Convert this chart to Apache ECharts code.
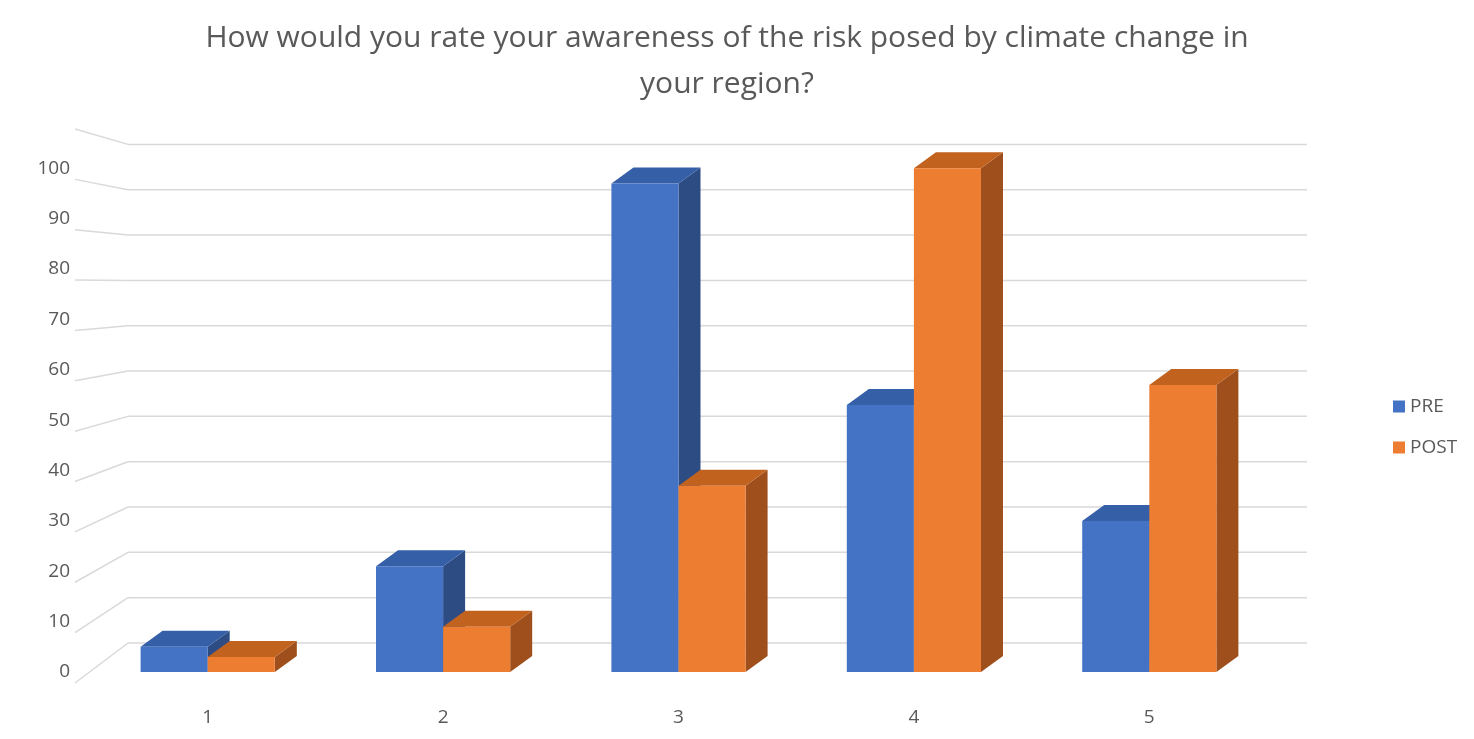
<!DOCTYPE html>
<html>
<head>
<meta charset="utf-8">
<script src="https://cdn.jsdelivr.net/npm/echarts@6/dist/echarts.min.js"></script>
<style>html,body{margin:0;padding:0;background:#fff}#chart{width:1474px;height:739px}</style>
</head>
<body>
<div id="chart"></div>
<script>
var categories = ['1', '2', '3', '4', '5'];
var preValues = [5, 21, 97, 53, 30];
var postValues = [3, 9, 37, 100, 57];
var gridTicks = [0, 10, 20, 30, 40, 50, 60, 70, 80, 90, 100, 110];

var chart = echarts.init(document.getElementById('chart'));
var DX = 22, DY = -16;

function barItem(side, face, top, edge) {
    return function (params, api) {
        var cat = api.value(0), v = api.value(1);
        var p = api.coord([cat, v]);
        var p0 = api.coord([cat, 0]);
        var w = api.size([1, 0])[0] * 0.285;
        var x = side === 0 ? p[0] - w : p[0];
        var y = p[1], yb = p0[1];
        return {
            type: 'group',
            children: [
                { type: 'polygon', shape: { points: [[x + w, y], [x + w + DX, y + DY], [x + w + DX, yb + DY], [x + w, yb]] }, style: { fill: edge } },
                { type: 'polygon', shape: { points: [[x, y], [x + DX, y + DY], [x + w + DX, y + DY], [x + w, y]] }, style: { fill: top } },
                { type: 'rect', shape: { x: x, y: y, width: w, height: yb - y }, style: { fill: face } }
            ]
        };
    };
}

function wallItem(params, api) {
    var v = api.value(0);
    var fy = api.coord([0, v])[1];
    var zy = api.coord([0, 0])[1];
    var by = 643 + (fy - zy) * 0.9;
    var fyl = 683 + (fy - zy);
    var style = { stroke: '#d9d9d9', lineWidth: 1.5 };
    return {
        type: 'group',
        children: [
            { type: 'line', shape: { x1: 75, y1: fyl, x2: 128, y2: by }, style: style },
            { type: 'line', shape: { x1: 128, y1: by, x2: 1307, y2: by }, style: style }
        ]
    };
}

chart.setOption({
    title: {
        text: 'How would you rate your awareness of the risk posed by climate change in\nyour region?',
        left: 722,
        textAlign: 'center',
        top: 10,
        textStyle: { color: '#595959', fontSize: 30, fontWeight: 'normal', fontFamily: 'Open Sans', lineHeight: 46 }
    },
    legend: {
        orient: 'vertical',
        left: 1388,
        top: 392,
        itemGap: 22,
        itemWidth: 12,
        itemHeight: 12,
        icon: 'rect',
        data: [
            { name: 'PRE', itemStyle: { color: '#4472C4' } },
            { name: 'POST', itemStyle: { color: '#ED7D31' } }
        ],
        textStyle: { color: '#595959', fontSize: 19, fontFamily: 'Open Sans' }
    },
    grid: { left: 90, width: 1177, top: 118, bottom: 67 },
    xAxis: {
        type: 'category',
        data: categories,
        axisLine: { show: false },
        axisTick: { show: false },
        axisLabel: { color: '#595959', fontSize: 19, margin: 36, fontFamily: 'Open Sans' }
    },
    yAxis: {
        type: 'value',
        min: 0, max: 110, interval: 10,
        splitLine: { show: false },
        axisLabel: {
            color: '#595959', fontSize: 19, fontFamily: 'Open Sans', margin: 20,
            padding: [22, 0, 0, 0],
            formatter: function (v) { return v > 100 ? '' : v; }
        }
    },
    series: [
        { type: 'custom', name: 'walls', renderItem: wallItem, data: gridTicks.map(function (t) { return [t]; }), silent: true, z: 1, encode: { y: 0 } },
        { type: 'custom', name: 'PRE', renderItem: barItem(0, '#4472C4', '#3560A8', '#2D4C84'), data: preValues.map(function (v, i) { return [i, v]; }), z: 2, itemStyle: { color: '#4472C4' } },
        { type: 'custom', name: 'POST', renderItem: barItem(1, '#ED7D31', '#C2621F', '#9E4F1C'), data: postValues.map(function (v, i) { return [i, v]; }), z: 3, itemStyle: { color: '#ED7D31' } }
    ]
});
</script>
</body>
</html>
